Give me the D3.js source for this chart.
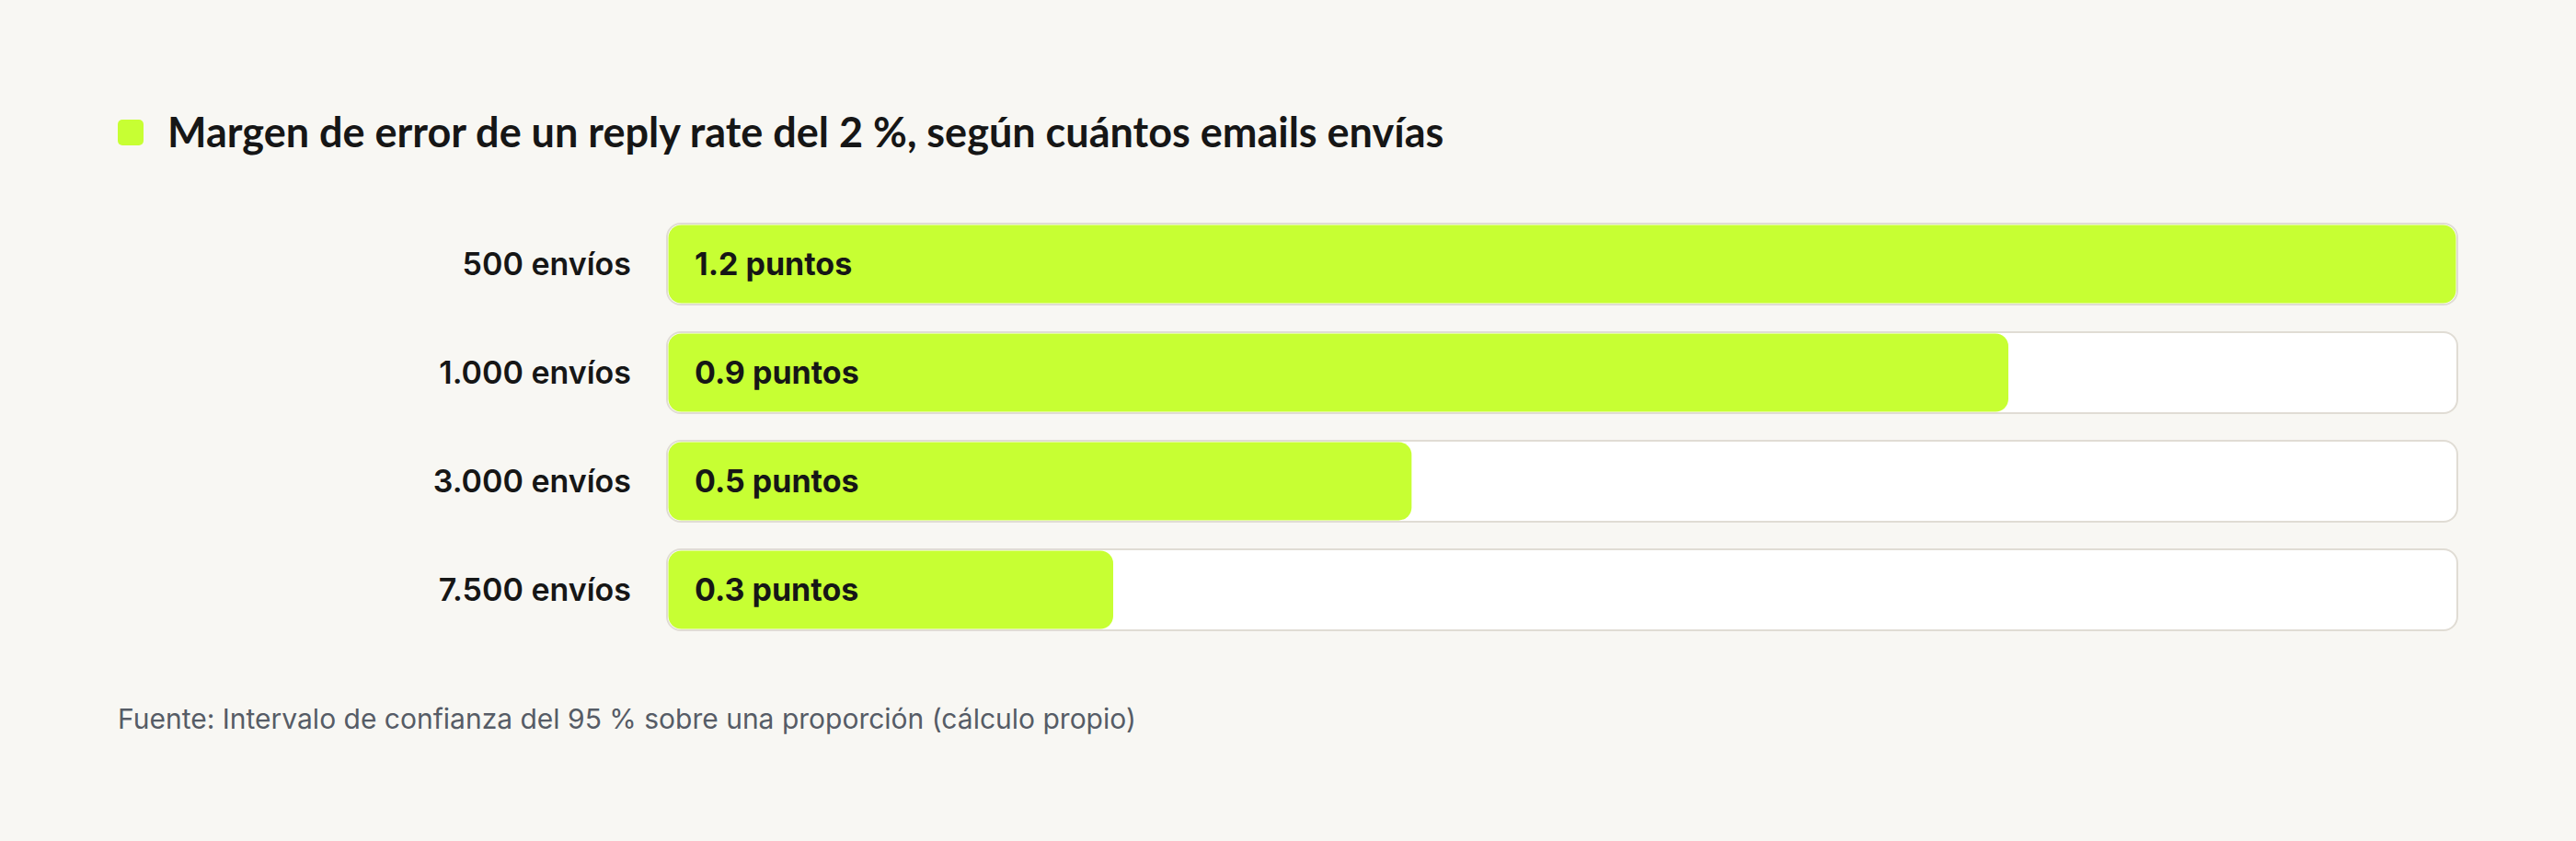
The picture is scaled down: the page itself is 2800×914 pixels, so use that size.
<!DOCTYPE html>
<html>
<head>
<meta charset="utf-8">
<script src="https://cdn.jsdelivr.net/npm/d3@7"></script>
<style>
  html, body { margin: 0; padding: 0; background: #f8f7f3; }
  svg { display: block; }
  .title { font-family: Lato, Inter, sans-serif; font-weight: 700; fill: #161616; }
  .cat { font-family: Inter, "Noto Sans", sans-serif; font-weight: 600; fill: #161616; }
  .val { font-family: Inter, "Noto Sans", sans-serif; font-weight: 700; fill: #161616; }
  .source { font-family: Inter, "Noto Sans", sans-serif; font-weight: 400; fill: #565c66; }
</style>
</head>
<body>
<div id="chart"></div>
<script>
const categories = ["500 envíos", "1.000 envíos", "3.000 envíos", "7.500 envíos"];
const margins = [1.2, 0.9, 0.5, 0.3];
const valueLabels = ["1.2 puntos", "0.9 puntos", "0.5 puntos", "0.3 puntos"];
const titleText = "Margen de error de un reply rate del 2 %, según cuántos emails envías";
const sourceText = "Fuente: Intervalo de confianza del 95 % sobre una proporción (cálculo propio)";

const data = categories.map((c, i) => ({ cat: c, value: margins[i], label: valueLabels[i] }));

const W = 2800, H = 914;
const plot = { left: 725, right: 2671, top: 243, bottom: 685 };

const svg = d3.select("#chart").append("svg")
  .attr("width", W)
  .attr("height", H);

svg.append("rect").attr("width", W).attr("height", H).attr("fill", "#f8f7f3");

// title with legend square
svg.append("rect")
  .attr("x", 128).attr("y", 130)
  .attr("width", 28).attr("height", 28)
  .attr("rx", 5)
  .attr("fill", "#c7ff33");

svg.append("text")
  .attr("class", "title")
  .attr("x", 182).attr("y", 160)
  .attr("font-size", 45)
  .text(titleText);

const x = d3.scaleLinear()
  .domain([0, 1.2])
  .range([0, plot.right - plot.left]);

const y = d3.scaleBand()
  .domain(categories)
  .range([plot.top, plot.bottom])
  .paddingInner(30 / 118)
  .paddingOuter(0);

const rows = svg.append("g")
  .selectAll("g")
  .data(data)
  .join("g")
  .attr("transform", d => `translate(0, ${y(d.cat)})`);

const bh = y.bandwidth();

// track
rows.append("rect")
  .attr("x", plot.left)
  .attr("y", 0)
  .attr("width", plot.right - plot.left)
  .attr("height", bh)
  .attr("rx", 15)
  .attr("fill", "#ffffff")
  .attr("stroke", "#e0dcd4")
  .attr("stroke-width", 2);

// fill
rows.append("rect")
  .attr("x", plot.left + 1.5)
  .attr("y", 1.5)
  .attr("width", d => Math.max(0, x(d.value) - 3))
  .attr("height", bh - 3)
  .attr("rx", 14)
  .attr("fill", "#c7ff33");

rows.append("text")
  .attr("class", "cat")
  .attr("x", plot.left - 39)
  .attr("y", bh / 2)
  .attr("dy", "0.36em")
  .attr("text-anchor", "end")
  .attr("font-size", 34)
  .text(d => d.cat);

rows.append("text")
  .attr("class", "val")
  .attr("x", plot.left + 30)
  .attr("y", bh / 2)
  .attr("dy", "0.36em")
  .attr("font-size", 34)
  .text(d => d.label);

svg.append("text")
  .attr("class", "source")
  .attr("x", 128).attr("y", 792)
  .attr("font-size", 30)
  .text(sourceText);
</script>
</body>
</html>
